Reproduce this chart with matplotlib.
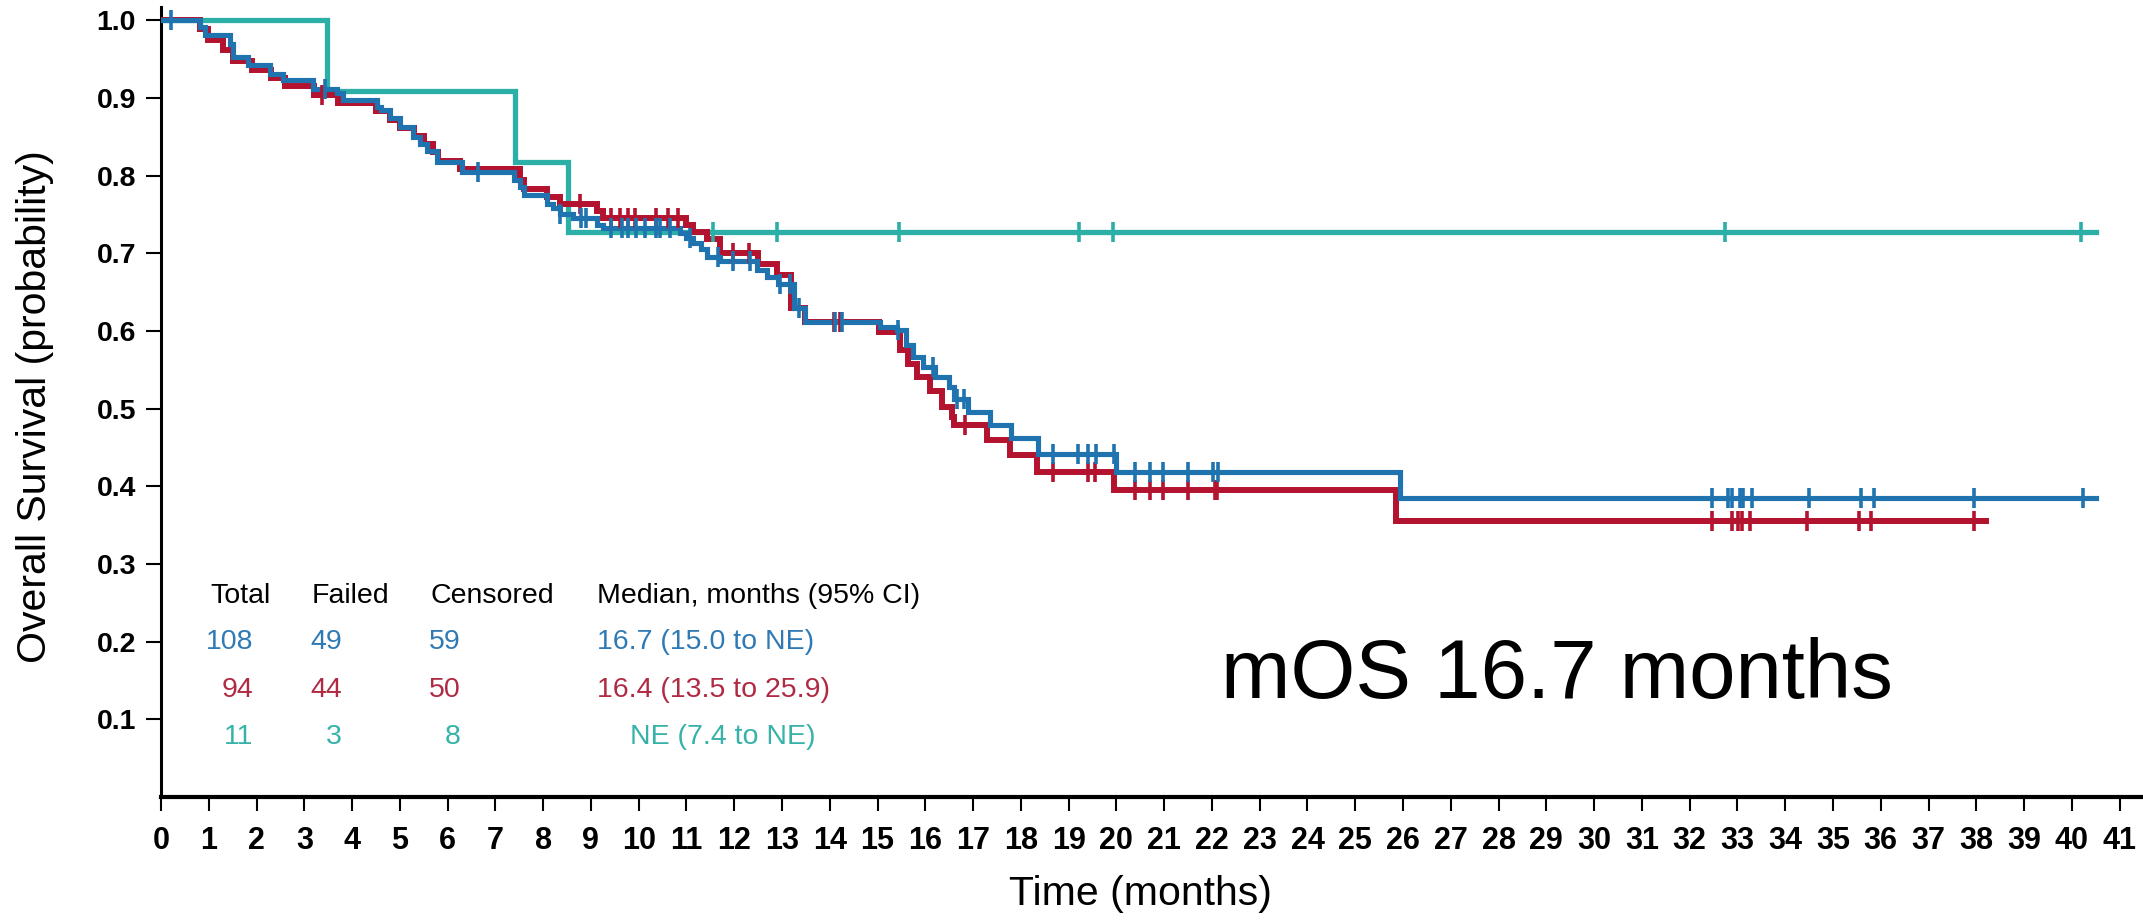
import numpy as np
import matplotlib
matplotlib.use("Agg")
import matplotlib.pyplot as plt
from matplotlib import font_manager

# Kaplan-Meier step points (months, survival probability)
blue_t = [0, 0.82, 0.92, 1.44, 1.51, 1.83, 2.28, 2.56, 3.19, 3.68, 3.82, 4.52, 4.6,
          4.79, 5.0, 5.28, 5.42, 5.56, 5.77, 6.3, 7.38, 7.52, 7.6, 8.07, 8.2, 8.35,
          8.63, 9.12, 9.26, 10.86, 10.99, 11.14, 11.3, 11.42, 11.7, 12.47, 12.68,
          12.92, 13.25, 13.48, 15.05, 15.4, 15.6, 15.75, 15.96, 16.2, 16.49, 16.6,
          16.9, 17.36, 17.8, 18.36, 20.0, 25.93]
blue_s = [1.0, 0.991, 0.981, 0.970, 0.953, 0.942, 0.931, 0.923, 0.912, 0.906, 0.897,
          0.888, 0.884, 0.874, 0.863, 0.850, 0.841, 0.831, 0.818, 0.805, 0.794, 0.785,
          0.775, 0.764, 0.758, 0.751, 0.745, 0.736, 0.732, 0.726, 0.719, 0.713, 0.706,
          0.695, 0.690, 0.678, 0.670, 0.661, 0.629, 0.612, 0.605, 0.601, 0.582, 0.567,
          0.554, 0.541, 0.528, 0.513, 0.496, 0.479, 0.462, 0.442, 0.419, 0.385]
blue_end = 40.5
blue_cens = [0.2, 3.43, 6.64, 8.35, 8.8, 8.9, 9.43, 9.64, 9.78, 9.95, 10.13, 10.37,
             10.44, 10.65, 11.07, 11.66, 11.98, 12.33, 12.96, 13.16, 13.35, 14.11,
             14.25, 15.43, 16.17, 16.66, 16.8, 18.68, 19.2, 19.41, 19.58, 19.94, 20.39,
             20.70, 20.98, 21.50, 22.03, 22.13, 32.46, 32.81, 32.88, 33.05, 33.12,
             33.3, 34.49, 35.58, 35.85, 37.95, 40.24]

red_t = [0, 0.82, 0.98, 1.3, 1.5, 1.9, 2.3, 2.6, 3.2, 3.7, 4.5, 4.8, 5.0, 5.3, 5.5,
         5.7, 5.8, 6.25, 7.52, 7.6, 8.07, 8.35, 9.12, 9.26, 10.99, 11.14, 11.42, 11.7,
         12.5, 12.9, 13.18, 13.48, 15.02, 15.47, 15.64, 15.82, 16.1, 16.34, 16.55,
         16.6, 17.29, 17.77, 18.33, 19.94, 25.86]
red_s = [1.0, 0.989, 0.975, 0.962, 0.947, 0.936, 0.926, 0.915, 0.904, 0.894, 0.883,
         0.872, 0.861, 0.851, 0.840, 0.830, 0.819, 0.808, 0.794, 0.783, 0.773, 0.764,
         0.755, 0.745, 0.736, 0.727, 0.718, 0.700, 0.686, 0.672, 0.630, 0.612, 0.598,
         0.575, 0.558, 0.541, 0.523, 0.502, 0.489, 0.479, 0.459, 0.440, 0.419, 0.395,
         0.355]
red_end = 38.2
red_cens = [3.36, 8.77, 9.43, 9.61, 9.78, 9.92, 10.37, 10.62, 10.83, 11.98, 12.3,
            14.08, 14.22, 16.83, 18.68, 19.41, 19.55, 20.39, 20.70, 20.98, 21.50,
            22.06, 22.1, 32.46, 32.88, 33.02, 33.09, 33.26, 34.45, 35.55, 35.79, 37.95]

teal_t = [0, 3.47, 7.41, 8.53]
teal_s = [1.0, 0.909, 0.818, 0.727]
teal_end = 40.5
teal_cens = [11.55, 12.9, 15.45, 19.21, 19.93, 32.74, 40.2]

# summary table rows: total, failed, censored, median (95% CI)
totals = ["108", "94", "11"]
failed = ["49", "44", "3"]
censored = ["59", "50", "8"]
medians = ["16.7 (15.0 to NE)", "16.4 (13.5 to 25.9)", "NE (7.4 to NE)"]

BLUE = "#1f74b0"
RED = "#b3132f"
TEAL = "#2cafa7"
txt_colors = ["#2f7ab4", "#b02a43", "#37b2a9"]

plt.rcParams["font.family"] = ["Liberation Sans", "DejaVu Sans"]

# condensed face for ticks and the table, if the narrow Liberation cut exists
installed = {f.name for f in font_manager.fontManager.ttflist}
have_narrow = "Liberation Sans Narrow" in installed
narrow = "Liberation Sans Narrow" if have_narrow else "Liberation Sans"
xtick_fs, ytick_fs, table_fs = (25, 23, 23.5) if have_narrow else (22, 20.5, 20.5)

fig = plt.figure(figsize=(21.43, 9.23), dpi=100)
ax = fig.add_axes([161 / 2143, 1 - 797 / 923, 1982 / 2143, 790 / 923])


def km_curve(t, s, end, cens, color, lw):
    ax.step(list(t) + [end], list(s) + [s[-1]], where="post", color=color,
            lw=lw, solid_joinstyle="miter", zorder=3)
    idx = np.searchsorted(t, cens, side="right") - 1
    ax.plot(cens, np.array(s)[idx], ls="none", marker="|", ms=15, mew=2.6,
            color=color, zorder=4)


km_curve(teal_t, teal_s, teal_end, teal_cens, TEAL, 3.8)
km_curve(red_t, red_s, red_end, red_cens, RED, 4.3)
km_curve(blue_t, blue_s, blue_end, blue_cens, BLUE, 3.7)

ax.set_xlim(0, 41.49)
ax.set_ylim(0, 1.017)
ax.set_xticks(range(0, 42))
ax.set_yticks(np.arange(1, 11) / 10)
ax.yaxis.set_major_formatter(plt.FormatStrFormatter("%.1f"))
ax.spines["top"].set_visible(False)
ax.spines["right"].set_visible(False)
ax.spines["bottom"].set_linewidth(3)
ax.spines["left"].set_linewidth(2.2)
ax.tick_params(axis="x", length=10, width=1.5, pad=11)
ax.tick_params(axis="y", length=11, width=1.5, pad=7)
for lab in ax.get_xticklabels():
    lab.set_fontfamily(narrow)
    lab.set_fontweight("bold")
    lab.set_fontsize(xtick_fs)
for lab in ax.get_yticklabels():
    lab.set_fontfamily(narrow)
    lab.set_fontweight("bold")
    lab.set_fontsize(ytick_fs)

ax.set_xlabel("Time (months)", fontsize=29.5)
ax.xaxis.set_label_coords(0.494, -0.099)
ax.set_ylabel("Overall Survival (probability)", fontsize=29.5)
ax.yaxis.set_label_coords(-0.054, 0.494)

# summary table
head_y = 0.2497
row_y = [0.1905, 0.1287, 0.0682]
tkw = dict(fontsize=table_fs, family=narrow, va="baseline")
for x, h in zip([1.03, 3.16, 5.65, 9.13], ["Total", "Failed", "Censored",
                                             "Median, months (95% CI)"]):
    ax.text(x, head_y, h, ha="left", **tkw)
med_x = [9.13, 9.13, 9.82]
for i in range(3):
    c = txt_colors[i]
    ax.text(1.94, row_y[i], totals[i], color=c, ha="right", **tkw)
    ax.text(3.79, row_y[i], failed[i], color=c, ha="right", **tkw)
    ax.text(6.28, row_y[i], censored[i], color=c, ha="right", **tkw)
    ax.text(med_x[i], row_y[i], medians[i], color=c, ha="left", **tkw)

ax.text(22.19, 0.127, "mOS 16.7 months", fontsize=60, va="baseline", ha="left")

fig.savefig("out.png", dpi=100)
